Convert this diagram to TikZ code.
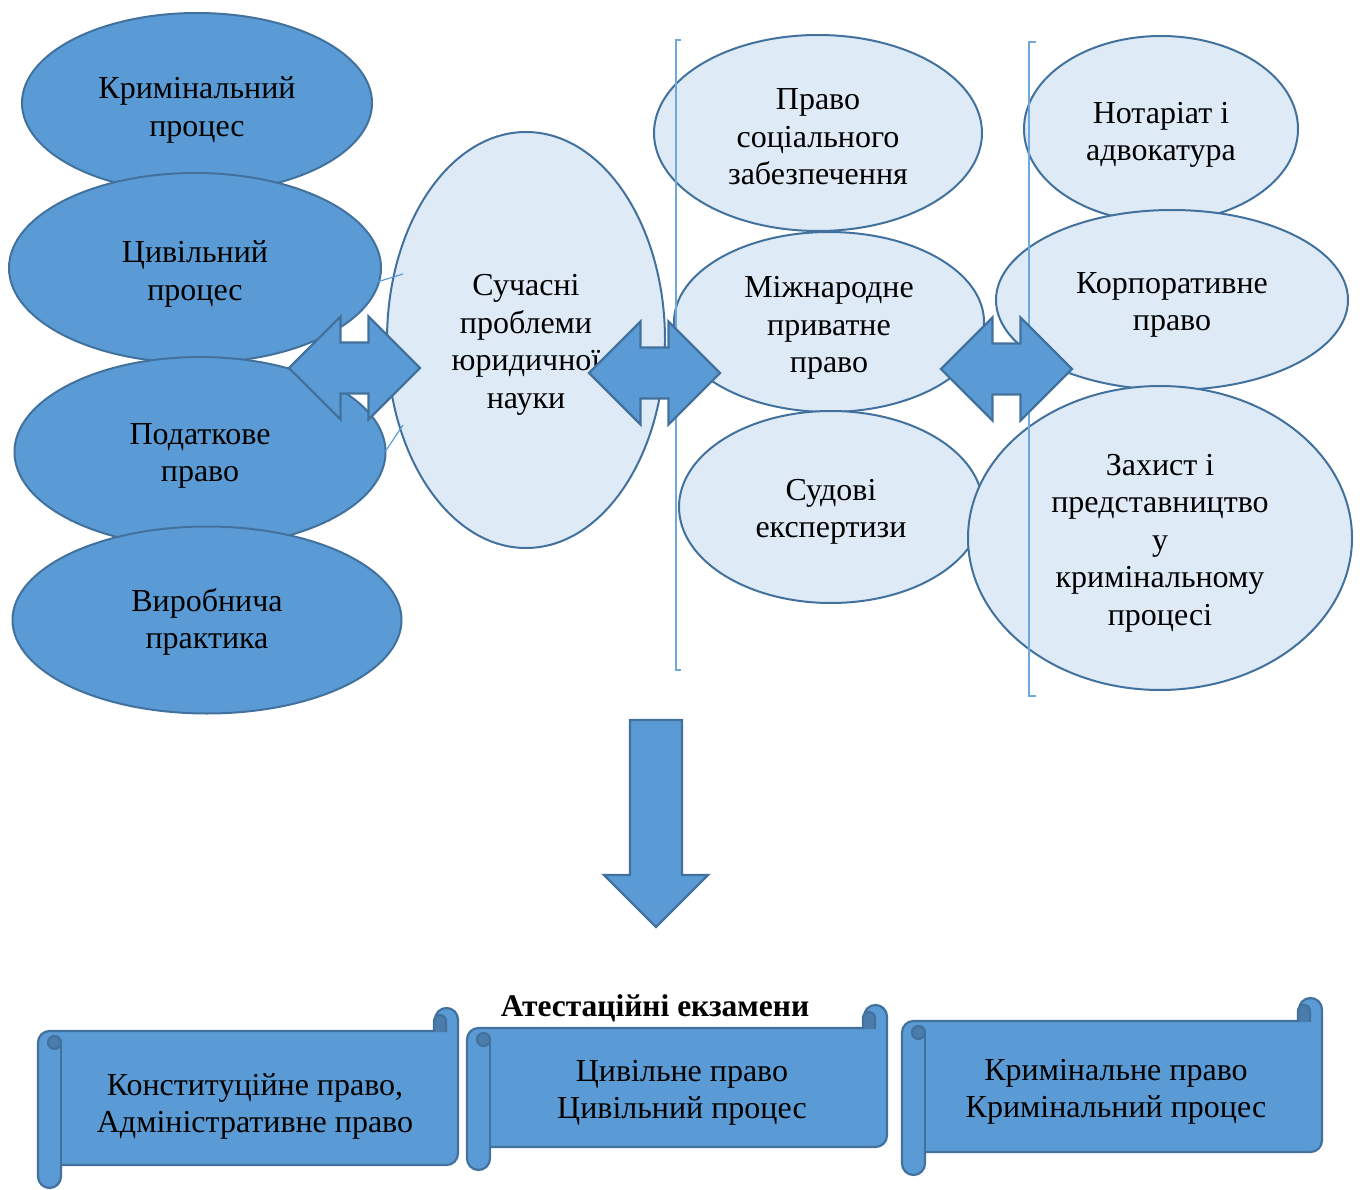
\documentclass[tikz,border=0pt]{standalone}
\usepackage{fontspec}
\setmainfont{Liberation Serif}
\usetikzlibrary{shapes.geometric}
\definecolor{darkblue}{HTML}{5B9BD5}
\definecolor{strokeblue}{HTML}{41719C}
\definecolor{lightblue}{HTML}{DEEBF7}
\definecolor{curlblue}{HTML}{4A7DAB}
\definecolor{bracketblue}{HTML}{6FA8DC}
\tikzset{
  darkell/.style={ellipse, draw=strokeblue, fill=darkblue, line width=2pt, inner sep=0pt},
  lightell/.style={ellipse, draw=strokeblue, fill=lightblue, line width=2pt, inner sep=0pt},
  lbl/.style={align=center, font=\fontsize{32}{37.5}\selectfont, text=black, inner sep=0pt, yshift=-3pt},
  scrolllbl/.style={align=center, font=\fontsize{32}{37}\selectfont, text=black, inner sep=0pt, yshift=-3pt},
  titlelbl/.style={font=\fontsize{31.5}{34}\selectfont\bfseries, text=black, inner sep=0pt, yshift=-3pt},
  blockarrow/.style={draw=strokeblue, fill=darkblue, line width=2.2pt, line join=miter},
  bracketline/.style={draw=bracketblue, line width=1.5pt},
  thinconn/.style={draw=darkblue, line width=1.2pt},
  scrollline/.style={draw=strokeblue, line width=2.2pt, line join=round},
}
\newcommand\dblarrow[2]{%
  \draw[blockarrow, shift={(#1,#2)}] (-65.5,0) -- (-14,51.5) -- (-14,25.5) -- (14,25.5) -- (14,51.5) -- (65.5,0) -- (14,-51.5) -- (14,-25.5) -- (-14,-25.5) -- (-14,-51.5) -- cycle;}
% #1=L #2=R #3=T #4=B (pixel coords, y down)
\newcommand\myscroll[4]{%
  \draw[scrollline, fill=darkblue] (#1,{-#3-34.5}) arc[start angle=180,end angle=90,radius=11.5]
    -- ({#2-23},{-#3-23}) -- ({#2-23},{-#3-11.5}) arc[start angle=180,end angle=0,radius=11.5]
    -- (#2,{-#4+34.5}) arc[start angle=0,end angle=-90,radius=11.5]
    -- ({#1+23},{-#4+23}) -- ({#1+23},{-#4+11.5}) arc[start angle=0,end angle=-180,radius=11.5] -- cycle;
  \draw[scrollline] ({#1+23},{-#3-34.5}) -- ({#1+23},{-#4+23});
  \draw[scrollline, fill=curlblue] ({#1+23},{-#3-34.5}) arc[start angle=0,end angle=360,radius=6.5];
  \draw[scrollline, fill=curlblue] ({#2-24},{-#3-24}) -- ({#2-24},{-#3-13}) arc[start angle=180,end angle=0,radius=6] -- ({#2-12},{-#3-24});
}
\begin{document}
\begin{tikzpicture}[x=1pt,y=1pt]
\useasboundingbox (0,0) rectangle (1360,-1190);
% left column
\node[darkell, minimum width=350, minimum height=180] (kp) at (197,-103) {};
\node[lbl] at (197,-107) {Кримінальний\\процес};
\node[darkell, minimum width=372, minimum height=190] (cp) at (195,-268) {};
\node[lbl] at (195,-271) {Цивільний\\процес};
\node[darkell, minimum width=371, minimum height=190] (pp) at (200,-452) {};
\node[lbl] at (200,-453) {Податкове\\право};
\node[darkell, minimum width=389, minimum height=187] (vp) at (207,-620) {};
\node[lbl] at (207,-619) {Виробнича\\практика};
% centre
\node[lightell, minimum width=278, minimum height=416] (sp) at (526,-340) {};
\node[lbl] at (526,-342) {Сучасні\\проблеми\\юридичної\\науки};
\coordinate (c1a) at (377,-282); \coordinate (c1b) at (403,-274);
\coordinate (c2a) at (385,-452); \coordinate (c2b) at (403,-425);
\draw[thinconn] (c1a) -- (c1b);
\draw[thinconn] (c2a) -- (c2b);
% middle column
\node[lightell, minimum width=328, minimum height=196] (ps) at (818,-133) {};
\node[lbl] at (818,-134) {Право\\соціального\\забезпечення};
\node[lightell, minimum width=310, minimum height=180] (mp) at (829,-322) {};
\node[lbl] at (829,-325) {Міжнародне\\приватне\\право};
\node[lightell, minimum width=304, minimum height=192] (se) at (831,-507) {};
\node[lbl] at (831,-509) {Судові\\експертизи};
% right column
\node[lightell, minimum width=274, minimum height=186] (na) at (1161,-129) {};
\node[lbl] at (1161,-132) {Нотаріат і\\адвокатура};
\node[lightell, minimum width=352, minimum height=180] (kr) at (1172,-300) {};
\node[lbl] at (1172,-302) {Корпоративне\\право};
\node[lightell, minimum width=384, minimum height=304] (zp) at (1160,-538) {};
\node[lbl] at (1160,-540) {Захист і\\представництво\\у\\кримінальному\\процесі};
% brackets
\draw[bracketline] (681,-40) -- (676,-40) -- (676,-670) -- (681,-670);
\draw[bracketline] (1036,-42) -- (1029,-42) -- (1029,-696) -- (1036,-696);
% double arrows
\dblarrow{354.5}{-368}
\dblarrow{654.5}{-373}
\dblarrow{1006.5}{-369}
% down arrow
\draw[blockarrow] (630,-720) -- (682,-720) -- (682,-875) -- (708,-875) -- (656,-927) -- (604,-875) -- (630,-875) -- cycle;
% scrolls
\myscroll{38}{458}{1008}{1188}
\node[scrolllbl] at (255,-1103) {Конституційне право,\\Адміністративне право};
\myscroll{467}{887}{1005}{1170}
\node[scrolllbl] at (682,-1090) {Цивільне право\\Цивільний процес};
\myscroll{902}{1322}{998}{1175}
\node[scrolllbl] at (1116,-1089) {Кримінальне право\\Кримінальний процес};
\node[titlelbl] at (655,-1005) {Атестаційні екзамени};
\end{tikzpicture}
\end{document}
